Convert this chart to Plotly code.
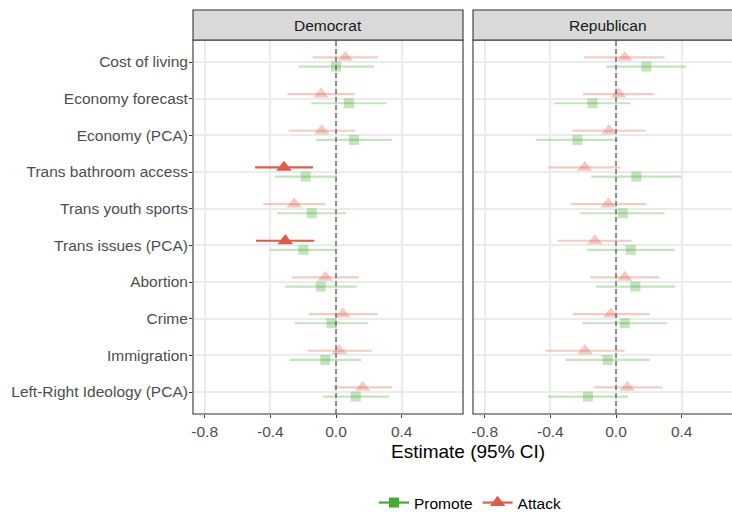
import plotly.graph_objects as go

# ---- data -------------------------------------------------------------
categories = [
    "Cost of living", "Economy forecast", "Economy (PCA)",
    "Trans bathroom access", "Trans youth sports", "Trans issues (PCA)",
    "Abortion", "Crime", "Immigration", "Left-Right Ideology (PCA)",
]
parties = ["Democrat", "Republican"]
treatments = ["Promote", "Attack"]

dem_attack_est = [0.057, -0.091, -0.087, -0.317, -0.254, -0.309, -0.065, 0.041, 0.020, 0.162]
dem_attack_lo = [-0.142, -0.296, -0.288, -0.493, -0.443, -0.487, -0.268, -0.166, -0.173, -0.012]
dem_attack_hi = [0.256, 0.114, 0.116, -0.140, -0.065, -0.132, 0.140, 0.252, 0.217, 0.343]

dem_promote_est = [0.000, 0.079, 0.110, -0.185, -0.148, -0.199, -0.093, -0.028, -0.065, 0.120]
dem_promote_lo = [-0.227, -0.150, -0.120, -0.373, -0.357, -0.400, -0.311, -0.252, -0.282, -0.081]
dem_promote_hi = [0.231, 0.307, 0.339, 0.006, 0.061, 0.000, 0.128, 0.195, 0.154, 0.323]

rep_attack_est = [0.053, 0.016, -0.043, -0.191, -0.047, -0.128, 0.053, -0.032, -0.189, 0.069]
rep_attack_lo = [-0.193, -0.201, -0.264, -0.412, -0.274, -0.355, -0.158, -0.264, -0.430, -0.136]
rep_attack_hi = [0.296, 0.231, 0.181, 0.026, 0.185, 0.097, 0.264, 0.205, 0.053, 0.280]

rep_promote_est = [0.185, -0.144, -0.235, 0.124, 0.041, 0.089, 0.118, 0.053, -0.051, -0.171]
rep_promote_lo = [-0.061, -0.378, -0.487, -0.150, -0.217, -0.177, -0.122, -0.205, -0.307, -0.414]
rep_promote_hi = [0.430, 0.089, 0.012, 0.398, 0.296, 0.357, 0.361, 0.313, 0.205, 0.073]

# estimates flagged as significant (drawn at full opacity)
significant = {
    ("Democrat", "Attack"): ["Trans bathroom access", "Trans issues (PCA)"],
}

x_ticks = [-0.8, -0.4, 0.0, 0.4]
x_tick_labels = ["-0.8", "-0.4", "0.0", "0.4"]

series = {
    ("Democrat", "Attack"): (dem_attack_est, dem_attack_lo, dem_attack_hi),
    ("Democrat", "Promote"): (dem_promote_est, dem_promote_lo, dem_promote_hi),
    ("Republican", "Attack"): (rep_attack_est, rep_attack_lo, rep_attack_hi),
    ("Republican", "Promote"): (rep_promote_est, rep_promote_lo, rep_promote_hi),
}

# ---- styling ----------------------------------------------------------
W, H = 732, 512
FONT = "Liberation Sans, Arial, Helvetica, sans-serif"
COLORS = {"Promote": (68, 170, 51), "Attack": (222, 92, 72)}
SYMBOLS = {"Promote": "square", "Attack": "triangle-up"}
SIZES = {"Promote": 10, "Attack": 13.5}
DODGE = {"Promote": -0.125, "Attack": 0.125}
FADED = 0.32


def rgba(rgb, a):
    return "rgba(%d,%d,%d,%.2f)" % (rgb[0], rgb[1], rgb[2], a)


def fx(p):
    return p / W


def fy(p):
    return 1 - p / H


n = len(categories)
ypos = {c: n - i for i, c in enumerate(categories)}  # first category on top

panel_top, panel_bot = 40, 414
strip_top = 10
panels = {
    "Democrat": dict(x0=193, x1=463, xa="x", ya="y"),
    "Republican": dict(x0=473, x1=743, xa="x2", ya="y2"),
}
px_per_unit = 164.2
x_min = -0.871

fig = go.Figure()

for party in parties:
    p = panels[party]
    for treat in treatments:
        est, lo, hi = series[(party, treat)]
        sig = set(significant.get((party, treat), []))
        for strong in (False, True):
            idx = [i for i, c in enumerate(categories) if (c in sig) == strong]
            if not idx:
                continue
            a = 1.0 if strong else FADED
            col = rgba(COLORS[treat], a)
            fig.add_trace(go.Scatter(
                x=[est[i] for i in idx],
                y=[ypos[categories[i]] + DODGE[treat] for i in idx],
                mode="markers",
                marker=dict(symbol=SYMBOLS[treat], size=SIZES[treat], color=col,
                            line=dict(width=0)),
                error_x=dict(type="data", symmetric=False,
                             array=[hi[i] - est[i] for i in idx],
                             arrayminus=[est[i] - lo[i] for i in idx],
                             width=0, thickness=2.2, color=col),
                xaxis=p["xa"], yaxis=p["ya"],
                showlegend=False, hoverinfo="skip",
            ))

# legend keys
for treat in treatments:
    fig.add_trace(go.Scatter(
        x=[None], y=[None], mode="lines+markers", name=treat,
        line=dict(color=rgba(COLORS[treat], 1), width=2.2),
        marker=dict(symbol=SYMBOLS[treat], size=SIZES[treat],
                    color=rgba(COLORS[treat], 1)),
    ))

shapes = []
annotations = []
for party in parties:
    p = panels[party]
    # zero reference line
    shapes.append(dict(type="line", xref=p["xa"], yref="paper",
                       x0=0, x1=0, y0=fy(panel_bot), y1=fy(panel_top),
                       line=dict(color="#555555", width=1.2, dash="5px,3px"),
                       layer="above"))
    # panel border
    shapes.append(dict(type="rect", xref="paper", yref="paper",
                       x0=fx(p["x0"]), x1=fx(p["x1"]),
                       y0=fy(panel_bot), y1=fy(panel_top),
                       line=dict(color="#333333", width=1.1),
                       fillcolor="rgba(0,0,0,0)", layer="above"))
    # strip
    shapes.append(dict(type="rect", xref="paper", yref="paper",
                       x0=fx(p["x0"]), x1=fx(p["x1"]),
                       y0=fy(panel_top), y1=fy(strip_top),
                       line=dict(color="#333333", width=1.1),
                       fillcolor="#D9D9D9"))
    annotations.append(dict(text=party, xref="paper", yref="paper",
                            x=fx((p["x0"] + p["x1"]) / 2),
                            y=fy((panel_top + strip_top) / 2 + 0.5),
                            xanchor="center", yanchor="middle", showarrow=False,
                            font=dict(family=FONT, size=15.5, color="#1A1A1A")))

annotations.append(dict(text="Estimate (95% CI)", xref="paper", yref="paper",
                        x=fx(468), y=fy(451), xanchor="center", yanchor="middle",
                        showarrow=False,
                        font=dict(family=FONT, size=19, color="#000000")))

axis_common = dict(
    showgrid=True, gridcolor="#EBEBEB", gridwidth=1.6, zeroline=False,
    showline=False, ticks="outside", ticklen=3, tickcolor="#333333",
    tickfont=dict(family=FONT, size=15.5, color="#4D4D4D"),
)

dem_x_max = x_min + (panels["Democrat"]["x1"] - panels["Democrat"]["x0"]) / px_per_unit
rep_x_max = x_min + (W - panels["Republican"]["x0"]) / px_per_unit

fig.update_layout(
    width=W, height=H,
    margin=dict(l=0, r=0, t=0, b=0, autoexpand=False),
    paper_bgcolor="white", plot_bgcolor="white",
    font=dict(family=FONT),
    xaxis=dict(domain=[fx(193), fx(463)], range=[x_min, dem_x_max],
               tickvals=x_ticks, ticktext=x_tick_labels, anchor="y", **axis_common),
    xaxis2=dict(domain=[fx(473), 1.0], range=[x_min, rep_x_max],
                tickvals=x_ticks, ticktext=x_tick_labels, anchor="y2", **axis_common),
    yaxis=dict(domain=[fy(panel_bot), fy(panel_top)], range=[0.4, n + 0.6],
               tickvals=[ypos[c] for c in categories], ticktext=categories,
               anchor="x", ticklabelstandoff=-2, **axis_common),
    yaxis2=dict(domain=[fy(panel_bot), fy(panel_top)], range=[0.4, n + 0.6],
                tickvals=[ypos[c] for c in categories], showticklabels=False,
                anchor="x2", **{k: v for k, v in axis_common.items() if k != "ticks"},
                ticks=""),
    showlegend=True,
    legend=dict(orientation="h", x=fx(470), y=fy(503), xanchor="center",
                yanchor="middle", font=dict(family=FONT, size=15.5, color="#000000"),
                bgcolor="rgba(0,0,0,0)", itemwidth=30),
    shapes=shapes, annotations=annotations,
)

fig.write_html("out.html")
